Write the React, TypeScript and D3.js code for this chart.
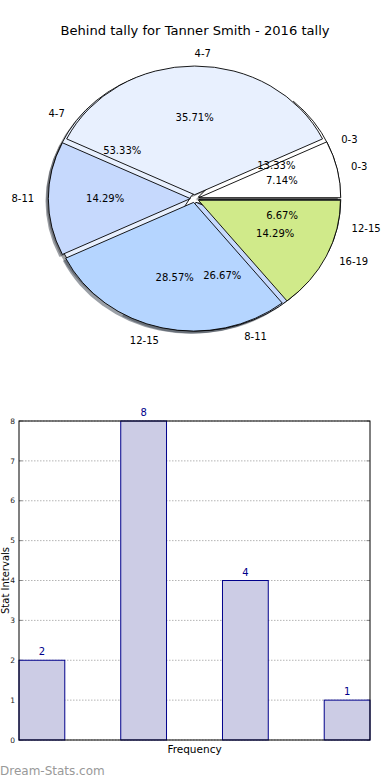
import React from "react";
import * as d3 from "d3";

// pie drawn on top (14 counts)
const topLabels = ["0-3", "4-7", "8-11", "12-15", "16-19"];
const topValues = [1, 5, 2, 4, 2];
// pie drawn underneath (15 counts)
const backLabels = ["0-3", "4-7", "8-11", "12-15"];
const backValues = [2, 8, 4, 1];
const sliceColors = ["#ffffff", "#e8f0fe", "#c6d9fd", "#b5d5ff", "#d0ea8a"];

// bar chart
const barValues = [2, 8, 4, 1];
const yTicks = [0, 1, 2, 3, 4, 5, 6, 7, 8];

const FONT = "DejaVu Sans, sans-serif";

const cx = 194.6;
const cy = 198.6;
const rx = 142;
const ry = 128.7;
const explode = 0.03;

type Slice = d3.PieArcDatum<number> & { label: string; color: string; mid: number };

function makeSlices(values: number[], labels: string[]): Slice[] {
  // matplotlib style: start at east, go counter clockwise
  const pie = d3
    .pie<number>()
    .sort(null)
    .startAngle(Math.PI / 2)
    .endAngle(Math.PI / 2 - 2 * Math.PI);
  return pie(values).map((d, i) => ({
    ...d,
    label: labels[i],
    color: sliceColors[i],
    mid: (d.startAngle + d.endAngle) / 2,
  }));
}

function darker(c: string) {
  const col = d3.rgb(c);
  return d3.rgb(col.r * 0.3, col.g * 0.3, col.b * 0.3).toString();
}

function App() {
  const arc = d3.arc<Slice>().innerRadius(0).outerRadius(rx);
  const back = makeSlices(backValues, backLabels);
  const front = makeSlices(topValues, topLabels);
  const total1 = d3.sum(backValues);
  const total2 = d3.sum(topValues);
  const sy = ry / rx;

  const wedge = (d: Slice, key: string, shadow: boolean) => {
    const ox = explode * rx * Math.sin(d.mid) + (shadow ? -0.02 * rx : 0);
    const oy = -explode * rx * Math.cos(d.mid) + (shadow ? 0.02 * rx : 0);
    return (
      <path
        key={key}
        d={arc(d) || ""}
        transform={`translate(${ox},${oy})`}
        fill={shadow ? darker(d.color) : d.color}
        fillOpacity={shadow ? 0.5 : 1}
        stroke={shadow ? "none" : "#000"}
        strokeWidth={0.9}
        vectorEffect="non-scaling-stroke"
      />
    );
  };

  const labelsFor = (slices: Slice[], total: number, key: string) =>
    slices.map((d, i) => {
      const s = Math.sin(d.mid);
      const c = Math.cos(d.mid);
      const lx = cx + (1.1 + explode) * rx * s;
      const ly = cy - (1.1 + explode) * ry * c;
      const px = cx + (0.6 + explode) * rx * s;
      const py = cy - (0.6 + explode) * ry * c;
      return (
        <g key={`${key}${i}`} fontFamily={FONT} fontSize={10} fill="#000">
          <text x={lx} y={ly} dy="0.35em" textAnchor={s >= 0 ? "start" : "end"}>
            {d.label}
          </text>
          <text x={px} y={py} dy="0.35em" textAnchor="middle">
            {((d.value / total) * 100).toFixed(2)}%
          </text>
        </g>
      );
    });

  // bar chart scales
  const left = 19;
  const right = 370;
  const top = 421;
  const bottom = 740;
  const x = d3.scaleLinear().domain([0, 3.45]).range([left, right]);
  const y = d3.scaleLinear().domain([0, 8]).range([bottom, top]);
  const barW = 0.45;

  return (
    <svg
      width={390}
      height={780}
      style={{ position: "absolute", left: 0, top: 0, background: "#fff" }}
    >
      <text
        x={195}
        y={34.5}
        textAnchor="middle"
        fontFamily={FONT}
        fontSize={13.1}
        fill="#000"
      >
        Behind tally for Tanner Smith - 2016 tally
      </text>

      <g transform={`translate(${cx},${cy}) scale(1,${sy})`}>
        {back.map((d, i) => wedge(d, `bs${i}`, true))}
        {front.map((d, i) => wedge(d, `fs${i}`, true))}
        {back.map((d, i) => wedge(d, `b${i}`, false))}
        {front.map((d, i) => wedge(d, `f${i}`, false))}
      </g>
      {labelsFor(back, total1, "bl")}
      {labelsFor(front, total2, "fl")}

      {/* bar chart */}
      <g>
        {yTicks.map((t) => (
          <line
            key={`g${t}`}
            x1={left}
            x2={right}
            y1={y(t)}
            y2={y(t)}
            stroke="#b4b4b4"
            strokeWidth={1}
            strokeDasharray="1.5,1.5"
          />
        ))}
        {yTicks.map((t) => (
          <g key={`t${t}`}>
            <line x1={left} x2={left + 3.5} y1={y(t)} y2={y(t)} stroke="#888" />
            <line x1={right - 3.5} x2={right} y1={y(t)} y2={y(t)} stroke="#888" />
            <text
              x={left - 4}
              y={y(t)}
              dy="0.35em"
              textAnchor="end"
              fontFamily={FONT}
              fontSize={7.5}
              fill="#222"
            >
              {t}
            </text>
          </g>
        ))}
        {barValues.map((v, i) => (
          <g key={`bar${i}`}>
            <rect
              x={x(i)}
              y={y(v)}
              width={x(i + barW) - x(i)}
              height={y(0) - y(v)}
              fill="#ccccE5"
              stroke="#00008b"
              strokeWidth={1}
            />
            <text
              x={(x(i) + x(i + barW)) / 2}
              y={y(v) - 5}
              textAnchor="middle"
              fontFamily={FONT}
              fontSize={10}
              fill="#00008b"
            >
              {v}
            </text>
          </g>
        ))}
        <rect
          x={left}
          y={top}
          width={right - left}
          height={bottom - top}
          fill="none"
          stroke="#000"
          strokeWidth={1}
        />
        <text
          x={(left + right) / 2}
          y={753}
          textAnchor="middle"
          fontFamily={FONT}
          fontSize={10.5}
          fill="#000"
        >
          Frequency
        </text>
        <text
          transform={`translate(9,${(top + bottom) / 2}) rotate(-90)`}
          textAnchor="middle"
          fontFamily={FONT}
          fontSize={10}
          fill="#000"
        >
          Stat Intervals
        </text>
      </g>

      <text x={0} y={775} fontFamily={FONT} fontSize={12} fill="#999">
        Dream-Stats.com
      </text>
    </svg>
  );
}

export default App;
